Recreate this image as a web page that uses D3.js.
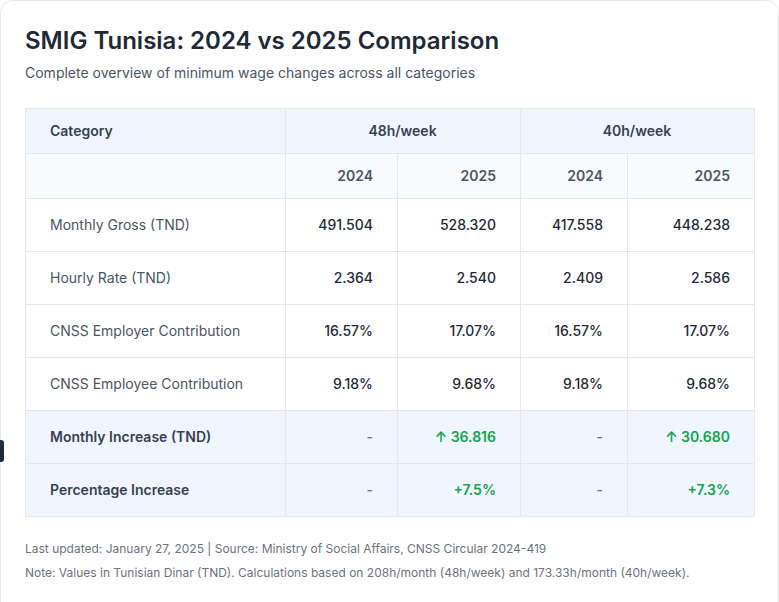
<!DOCTYPE html>
<html><head><meta charset="utf-8">
<script src="https://cdn.jsdelivr.net/npm/d3@7"></script>
<style>
html,body{margin:0;padding:0;background:#fff;}
svg{display:block;font-family:Inter,"Noto Sans",sans-serif;}
</style></head>
<body>
<svg id="c" width="779" height="602"></svg>
<script>
const title = "SMIG Tunisia: 2024 vs 2025 Comparison";
const subtitle = "Complete overview of minimum wage changes across all categories";
const groups = ["48h/week", "40h/week"];
const years = ["2024", "2025", "2024", "2025"];
const categories = ["Monthly Gross (TND)", "Hourly Rate (TND)", "CNSS Employer Contribution", "CNSS Employee Contribution", "Monthly Increase (TND)", "Percentage Increase"];
const monthlyGross = ["491.504", "528.320", "417.558", "448.238"];
const hourlyRate = ["2.364", "2.540", "2.409", "2.586"];
const employerContrib = ["16.57%", "17.07%", "16.57%", "17.07%"];
const employeeContrib = ["9.18%", "9.68%", "9.18%", "9.68%"];
const monthlyIncrease = ["-", "↑ 36.816", "-", "↑ 30.680"];
const percentIncrease = ["-", "+7.5%", "-", "+7.3%"];
const footer1 = "Last updated: January 27, 2025 | Source: Ministry of Social Affairs, CNSS Circular 2024-419";
const footer2 = "Note: Values in Tunisian Dinar (TND). Calculations based on 208h/month (48h/week) and 173.33h/month (40h/week).";

const rowsData = [monthlyGross, hourlyRate, employerContrib, employeeContrib, monthlyIncrease, percentIncrease];
const highlight = [false, false, false, false, true, true];

const svg = d3.select("#c");
// card
svg.append("rect").attr("x", 0.5).attr("y", 0.5).attr("width", 778).attr("height", 620)
  .attr("rx", 12).attr("fill", "#fff").attr("stroke", "#e5e7eb");
// small dark tab at left edge
svg.append("rect").attr("x", -6).attr("y", 440).attr("width", 10).attr("height", 22).attr("rx", 3).attr("fill", "#1f2937");

svg.append("text").attr("x", 25).attr("y", 49).attr("font-size", 24).attr("font-weight", 600)
  .attr("fill", "#1f2937").text(title);
svg.append("text").attr("x", 25).attr("y", 78).attr("font-size", 14).attr("fill", "#4b5563").text(subtitle);

// layout
const colEdges = [25, 285, 397, 520, 627, 754];
const rowHeights = [45, 45, 53, 53, 53, 53, 53, 53];
const rowKeys = d3.range(rowHeights.length);
const rowTops = [108];
rowHeights.forEach((h, i) => rowTops.push(rowTops[i] + h));
const y = d3.scaleOrdinal().domain(rowKeys).range(rowTops.slice(0, -1));
const colX = d3.scaleOrdinal().domain(d3.range(6)).range(colEdges);

const border = "#e5e7eb";
const tbl = svg.append("g");
const rowFill = i => i === 0 ? "#eff6ff" : i === 1 ? "#f9fafb" : (highlight[i - 2] ? "#eff6ff" : "#ffffff");
tbl.selectAll("rect.row").data(rowKeys).join("rect").attr("class", "row")
  .attr("x", colEdges[0]).attr("y", d => y(d)).attr("width", colEdges[5] - colEdges[0])
  .attr("height", d => rowHeights[d]).attr("fill", d => rowFill(d));
tbl.selectAll("line.h").data(rowTops).join("line").attr("class", "h")
  .attr("x1", colEdges[0]).attr("x2", colEdges[5]).attr("y1", d => d + 0.5).attr("y2", d => d + 0.5)
  .attr("stroke", border);
const bottom = rowTops[rowTops.length - 1];
[0, 1, 3, 5].forEach(ci => {
  tbl.append("line").attr("x1", colEdges[ci] + 0.5).attr("x2", colEdges[ci] + 0.5)
    .attr("y1", rowTops[0]).attr("y2", bottom).attr("stroke", border);
});
[2, 4].forEach(ci => {
  tbl.append("line").attr("x1", colEdges[ci] + 0.5).attr("x2", colEdges[ci] + 0.5)
    .attr("y1", rowTops[1]).attr("y2", bottom).attr("stroke", border);
});

const pad = 24;
const mid = r => y(r) + rowHeights[r] / 2 + 5;
tbl.append("text").attr("x", colEdges[0] + pad + 1).attr("y", mid(0)).attr("font-size", 14)
  .attr("font-weight", 600).attr("fill", "#374151").text("Category");
tbl.selectAll("text.grp").data(groups).join("text").attr("class", "grp")
  .attr("x", (d, i) => (colX(1 + 2 * i) + colX(3 + 2 * i)) / 2).attr("y", mid(0))
  .attr("text-anchor", "middle").attr("font-size", 14).attr("font-weight", 600).attr("fill", "#374151").text(d => d);
tbl.selectAll("text.yr").data(years).join("text").attr("class", "yr")
  .attr("x", (d, i) => colX(i + 2) - pad).attr("y", mid(1))
  .attr("text-anchor", "end").attr("font-size", 14).attr("font-weight", 600).attr("fill", "#4b5563").text(d => d);

categories.forEach((cat, ri) => {
  const r = ri + 2;
  const hl = highlight[ri];
  tbl.append("text").attr("x", colEdges[0] + pad + 1).attr("y", mid(r)).attr("font-size", 14)
    .attr("font-weight", hl ? 600 : 400).attr("fill", hl ? "#374151" : "#4b5563").text(cat);
  tbl.selectAll("text.v" + r).data(rowsData[ri]).join("text").attr("class", "v" + r)
    .attr("x", (d, i) => colX(i + 2) - pad).attr("y", mid(r)).attr("text-anchor", "end")
    .attr("font-size", 14)
    .attr("font-weight", d => hl && d !== "-" ? 600 : 500)
    .attr("fill", d => d === "-" ? "#6b7280" : (hl ? "#16a34a" : "#1f2937"))
    .text(d => d);
});

svg.append("text").attr("x", 25).attr("y", 553).attr("font-size", 12).attr("fill", "#6b7280").text(footer1);
svg.append("text").attr("x", 25).attr("y", 577).attr("font-size", 12).attr("fill", "#6b7280").text(footer2);
</script>
</body></html>
